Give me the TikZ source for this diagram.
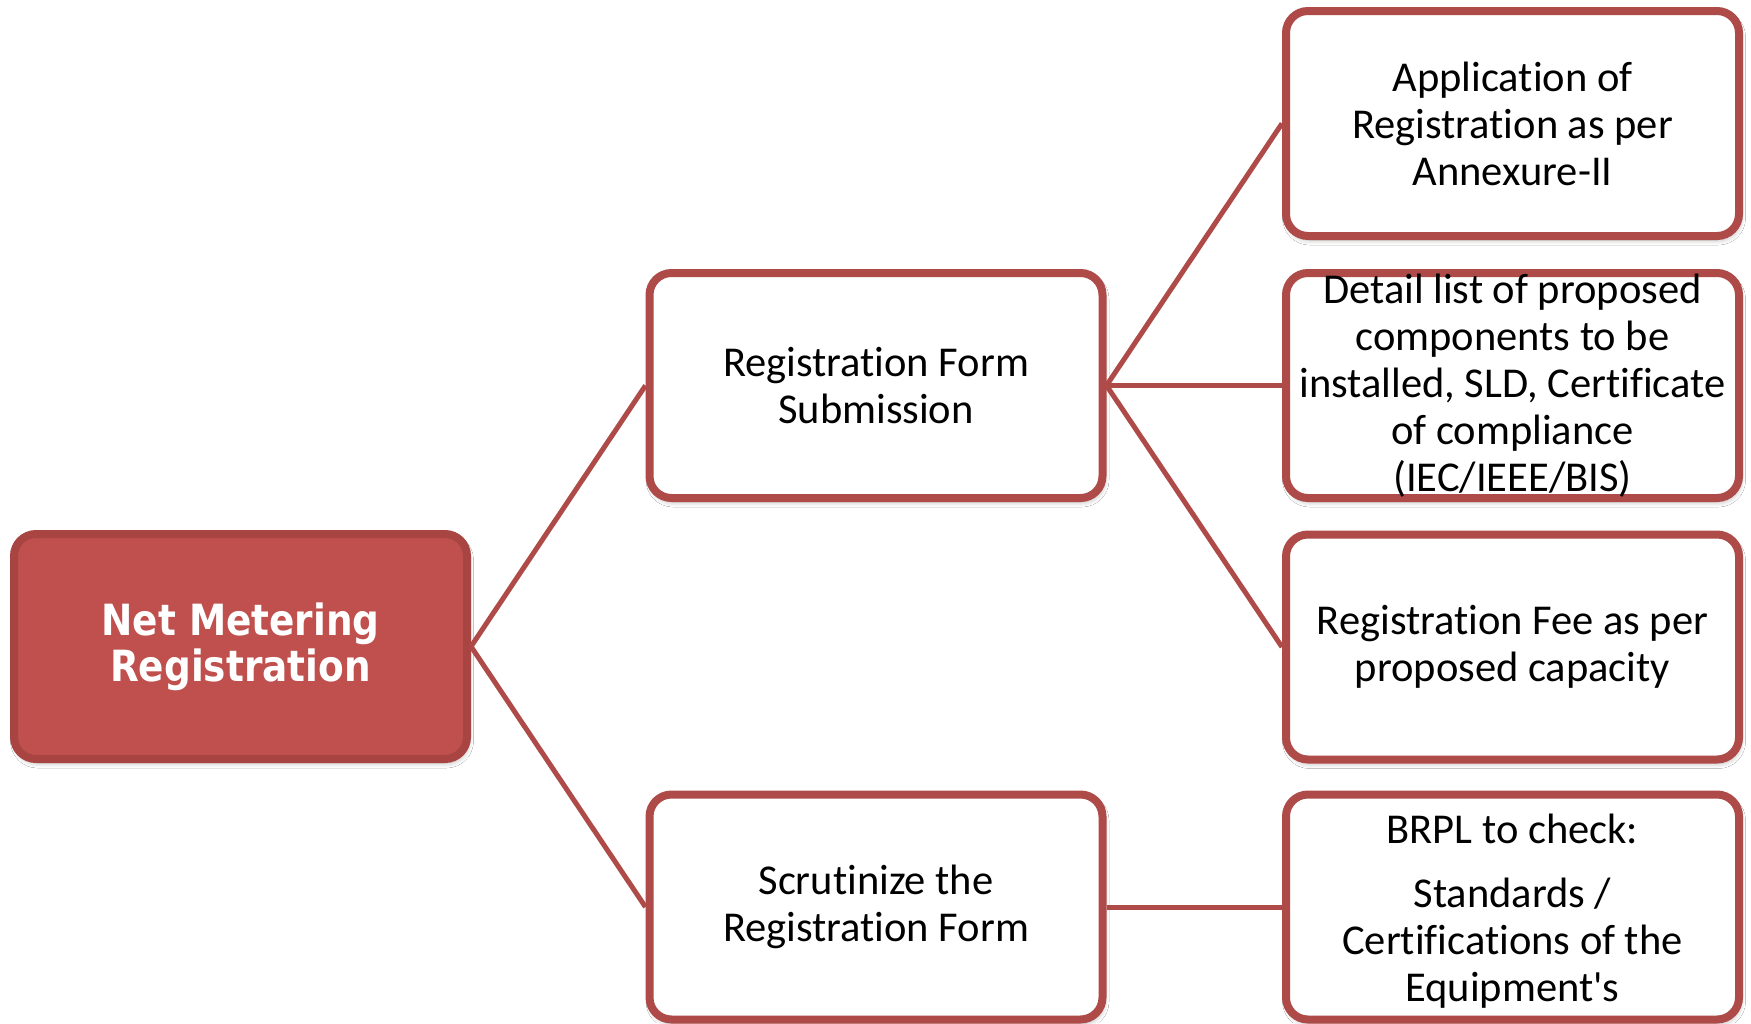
\documentclass[tikz,border=0pt]{standalone}
\usepackage{fontspec}
\setmainfont{Carlito}[Ligatures=NoCommon]
\newfontfamily\headfont{DejaVu Sans}[FakeStretch=0.87]
\usetikzlibrary{shadows.blur}
\definecolor{accent}{HTML}{C0504D}
\definecolor{rim}{HTML}{AE4A47}
\definecolor{rootrim}{HTML}{A84542}
\tikzset{
  card/.style={rectangle, rounded corners=22pt, line width=8pt, draw=rim,
    fill=white, minimum width=453pt, minimum height=225pt, inner sep=0pt,
    blur shadow={shadow xshift=1.5pt, shadow yshift=-4pt,
      shadow blur steps=6, shadow blur radius=5pt, shadow opacity=28}},
  rootcard/.style={card, draw=rootrim, fill=accent},
  cardtext/.style={align=center, font=\fontsize{42.5}{47}\selectfont, text=black, inner sep=0pt},
  roottext/.style={align=center, font=\headfont\bfseries\fontsize{43}{46}\selectfont, text=white, inner sep=0pt},
  link/.style={draw=rim, line width=5pt}
}
\begin{document}
\begin{tikzpicture}[x=1pt, y=-1pt]
  \useasboundingbox[fill=white] (0,0) rectangle (1751,1023);

  % boxes
  \node[rootcard] (root) at (240.5,646.5) {};
  \node[card] (submit) at (876,385.5) {};
  \node[card] (scrut) at (876,907) {};
  \node[card] (annex) at (1512.5,123.5) {};
  \node[card] (detail) at (1512.5,385.5) {};
  \node[card] (fee) at (1512.5,647) {};
  \node[card] (brpl) at (1512.5,907) {};

  % connectors
  \draw[link] (root.east) -- (submit.west);
  \draw[link] (root.east) -- (scrut.west);
  \draw[link] (submit.east) -- (annex.west);
  \draw[link] (submit.east) -- (detail.west);
  \draw[link] (submit.east) -- (fee.west);
  \draw[link] (scrut.east) -- (brpl.west);

  % labels
  \node[roottext] (root-t) at (root.center) {Net Metering\\Registration};
  \node[cardtext] (submit-t) at (submit.center) {Registration Form\\Submission};
  \node[cardtext] (scrut-t) at (scrut.center) {Scrutinize the\\Registration Form};
  \node[cardtext] (annex-t) at (annex.center) {Application of\\Registration as per\\Annexure-II};
  \node[cardtext] (detail-t) at (detail.center) {Detail list of proposed\\components to be\\installed, SLD, Certificate\\of compliance\\(IEC/IEEE/BIS)};
  \node[cardtext] (fee-t) at (fee.center) {Registration Fee as per\\proposed capacity};
  \node[cardtext] (brpl-t) at ([yshift=-4pt]brpl.center) {BRPL to check:\\[17pt]Standards /\\Certifications of the\\Equipment\textquotesingle s};
\end{tikzpicture}
\end{document}
